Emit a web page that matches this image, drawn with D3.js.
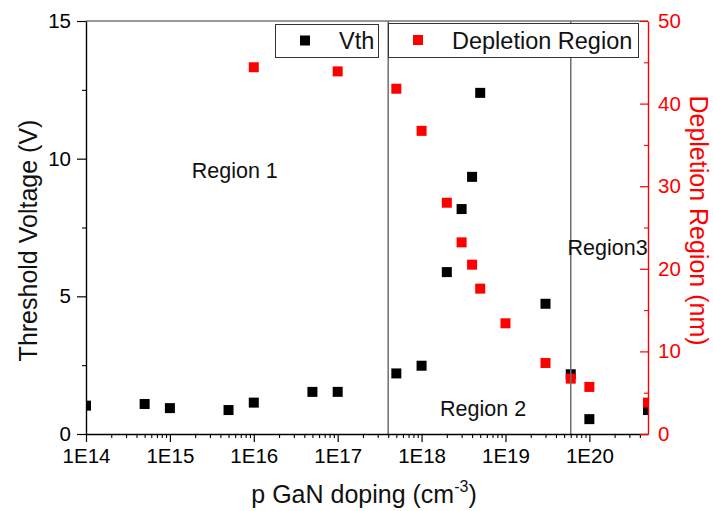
<!DOCTYPE html>
<html>
<head>
<meta charset="utf-8">
<script src="https://cdn.jsdelivr.net/npm/d3@7"></script>
<style>
  html, body { margin: 0; padding: 0; background: #fff; }
  svg { display: block; font-family: "Liberation Sans", Arial, sans-serif; }
</style>
</head>
<body>
<svg id="chart" width="713" height="511"></svg>
<script>
// p-GaN doping concentration (cm^-3) for each simulated device
const dopingVth = [1e14, 5e14, 1e15, 5e15, 1e16, 5e16, 1e17, 5e17, 1e18, 2e18, 3e18, 4e18, 5e18, 3e19, 6e19, 1e20, 5e20];
// Threshold voltage (V)
const vthValues = [1.03, 1.09, 0.94, 0.87, 1.14, 1.53, 1.53, 2.20, 2.48, 5.88, 8.17, 9.34, 12.39, 4.73, 2.17, 0.54, 0.87];

const dopingDep = [1e16, 1e17, 5e17, 1e18, 2e18, 3e18, 4e18, 5e18, 1e19, 3e19, 6e19, 1e20, 5e20];
// Depletion region width (nm)
const depValues = [44.4, 43.9, 41.8, 36.7, 28.0, 23.2, 20.5, 17.6, 13.4, 8.6, 6.7, 5.7, 3.8];

// Region boundaries (cm^-3)
const boundaries = [4e17, 6e19];
const regionLabels = [
  { text: "Region 1", x: 1.82e15, v: 9.3 },
  { text: "Region 2", x: 1.66e18, v: 0.66 },
  { text: "Region3",  x: 5.5e19, v: 6.5 }
];

const xTicks = [1e14, 1e15, 1e16, 1e17, 1e18, 1e19, 1e20];
const vTicks = [0, 5, 10, 15];
const vMinor = [2.5, 7.5, 12.5];
const dTicks = [0, 10, 20, 30, 40, 50];
const dMinor = [5, 15, 25, 35, 45];

const legendItems = [
  { label: "Vth", color: "#000" },
  { label: "Depletion Region", color: "#ff0000" }
];

const svg = d3.select("#chart");
const pLeft = 86, pRight = 648, pTop = 21, pBottom = 434;

const x = d3.scaleLog().domain([1e14, 5e20]).range([pLeft, pRight]);
const y = d3.scaleLinear().domain([0, 15]).range([pBottom, pTop]);
const y2 = d3.scaleLinear().domain([0, 50]).range([pBottom, pTop]);

// minor decade ticks 2..9 x 10^n
const xMinor = [];
for (let e = 14; e <= 20; e++) {
  for (let m = 2; m <= 9; m++) {
    const v = m * Math.pow(10, e);
    if (v < 5e20) xMinor.push(v);
  }
}

svg.append("defs").append("clipPath").attr("id", "plotClip")
  .append("rect").attr("x", pLeft).attr("y", pTop)
  .attr("width", pRight - pLeft).attr("height", pBottom - pTop);

// frame top line
svg.append("line")
  .attr("x1", pLeft).attr("x2", pRight).attr("y1", pTop).attr("y2", pTop)
  .attr("stroke", "#333").attr("stroke-width", 1.2);

// scatter points
const plot = svg.append("g").attr("clip-path", "url(#plotClip)");
const sz = 10;
plot.selectAll("rect.vth").data(dopingVth.map((d, i) => [d, vthValues[i]]))
  .join("rect").attr("class", "vth")
  .attr("x", d => x(d[0]) - sz / 2).attr("y", d => y(d[1]) - sz / 2)
  .attr("width", sz).attr("height", sz).attr("fill", "#000");
plot.selectAll("rect.dep").data(dopingDep.map((d, i) => [d, depValues[i]]))
  .join("rect").attr("class", "dep")
  .attr("x", d => x(d[0]) - sz / 2).attr("y", d => y2(d[1]) - sz / 2)
  .attr("width", sz).attr("height", sz).attr("fill", "#ff0000");

// region boundary lines
svg.selectAll("line.bound").data(boundaries).join("line").attr("class", "bound")
  .attr("x1", d => x(d)).attr("x2", d => x(d)).attr("y1", pTop).attr("y2", pBottom)
  .attr("stroke", "#6e6e6e").attr("stroke-width", 1.5);

// region labels
svg.selectAll("text.region").data(regionLabels).join("text").attr("class", "region")
  .attr("x", d => x(d.x)).attr("y", d => y(d.v))
  .attr("font-size", 21.5).attr("fill", "#111")
  .text(d => d.text);

// bottom axis
const fmtE = d => "1E" + Math.round(Math.log10(d));
const gx = svg.append("g").attr("transform", `translate(0,${pBottom})`)
  .call(d3.axisBottom(x).tickValues(xTicks).tickFormat(fmtE).tickSizeInner(8).tickSizeOuter(0).tickPadding(6));
gx.select(".domain").attr("stroke", "#000").attr("stroke-width", 1.4);
gx.selectAll(".tick line").attr("stroke", "#000").attr("stroke-width", 1.2);
gx.selectAll(".tick text").attr("font-size", 20.5).attr("fill", "#000")
  .attr("font-family", "Liberation Sans, Arial, sans-serif");
const gxm = svg.append("g").attr("transform", `translate(0,${pBottom})`)
  .call(d3.axisBottom(x).tickValues(xMinor).tickFormat("").tickSizeInner(4).tickSizeOuter(0));
gxm.select(".domain").remove();
gxm.selectAll(".tick line").attr("stroke", "#000").attr("stroke-width", 1.1);

// left axis
const gy = svg.append("g").attr("transform", `translate(${pLeft},0)`)
  .call(d3.axisLeft(y).tickValues(vTicks).tickSizeInner(9).tickSizeOuter(0).tickPadding(6));
gy.select(".domain").attr("stroke", "#000").attr("stroke-width", 1.4);
gy.selectAll(".tick line").attr("stroke", "#000").attr("stroke-width", 1.2);
gy.selectAll(".tick text").attr("font-size", 20.5).attr("fill", "#000")
  .attr("font-family", "Liberation Sans, Arial, sans-serif");
const gym = svg.append("g").attr("transform", `translate(${pLeft},0)`)
  .call(d3.axisLeft(y).tickValues(vMinor).tickFormat("").tickSizeInner(4).tickSizeOuter(0));
gym.select(".domain").remove();
gym.selectAll(".tick line").attr("stroke", "#000").attr("stroke-width", 1.1);

// right axis (red), ticks pointing inward
const gr = svg.append("g").attr("transform", `translate(${pRight},0)`)
  .call(d3.axisRight(y2).tickValues(dTicks).tickSizeInner(-8).tickSizeOuter(0).tickPadding(10));
gr.select(".domain").attr("stroke", "#ff0000").attr("stroke-width", 1.4);
gr.selectAll(".tick line").attr("stroke", "#ff0000").attr("stroke-width", 1.2);
gr.selectAll(".tick text").attr("font-size", 20.5).attr("fill", "#ff0000")
  .attr("font-family", "Liberation Sans, Arial, sans-serif");
const grm = svg.append("g").attr("transform", `translate(${pRight},0)`)
  .call(d3.axisRight(y2).tickValues(dMinor).tickFormat("").tickSizeInner(-4).tickSizeOuter(0));
grm.select(".domain").remove();
grm.selectAll(".tick line").attr("stroke", "#ff0000").attr("stroke-width", 1.1);

// axis titles
const xt = svg.append("text").attr("x", (pLeft + pRight) / 2 - 3).attr("y", 503)
  .attr("text-anchor", "middle").attr("font-size", 25).attr("fill", "#111");
xt.append("tspan").text("p GaN doping (cm");
xt.append("tspan").attr("font-size", 16).attr("dy", -11).text("-3");
xt.append("tspan").attr("dy", 11).text(")");

svg.append("text")
  .attr("transform", `translate(37,${(pTop + pBottom) / 2 + 13}) rotate(-90)`)
  .attr("text-anchor", "middle").attr("font-size", 25).attr("fill", "#111")
  .text("Threshold Voltage (V)");

svg.append("text")
  .attr("transform", `translate(690,${(pTop + pBottom) / 2 - 7}) rotate(90)`)
  .attr("text-anchor", "middle").attr("font-size", 25).attr("fill", "#ff0000")
  .text("Depletion Region (nm)");

// legend boxes
const legendBoxes = [
  { x0: 275, x1: 378, y0: 24, y1: 57, mx: 305, tx: 339 },
  { x0: 388, x1: 638, y0: 23, y1: 57, mx: 418, tx: 452 }
];
const lg = svg.selectAll("g.legend").data(legendItems).join("g").attr("class", "legend");
lg.append("rect")
  .attr("x", (d, i) => legendBoxes[i].x0 + 0.5).attr("y", (d, i) => legendBoxes[i].y0 + 0.5)
  .attr("width", (d, i) => legendBoxes[i].x1 - legendBoxes[i].x0)
  .attr("height", (d, i) => legendBoxes[i].y1 - legendBoxes[i].y0)
  .attr("fill", "#fff").attr("stroke", "#333").attr("stroke-width", 1);
lg.append("rect")
  .attr("x", (d, i) => legendBoxes[i].mx - 5).attr("y", (d, i) => (legendBoxes[i].y0 + legendBoxes[i].y1) / 2 - 5)
  .attr("width", 10).attr("height", 10).attr("fill", d => d.color);
lg.append("text")
  .attr("x", (d, i) => legendBoxes[i].tx).attr("y", (d, i) => (legendBoxes[i].y0 + legendBoxes[i].y1) / 2 + 8.5)
  .attr("font-size", 23.5).attr("fill", "#111")
  .text(d => d.label);
</script>
</body>
</html>
